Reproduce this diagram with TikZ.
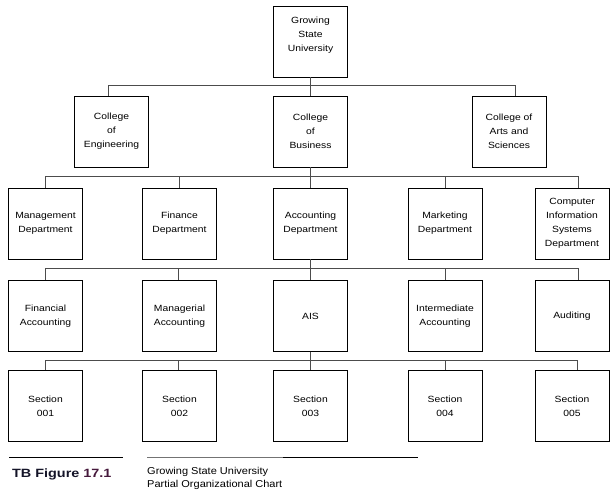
\documentclass[tikz,border=0pt]{standalone}
\usepackage{fontspec}
\setmainfont{Liberation Sans}
\newfontfamily\boitefont[FakeStretch=1.15]{Liberation Sans}
\newfontfamily\legendefont[FakeStretch=1.1]{Liberation Sans}
\newfontfamily\titrefont[FakeStretch=1.2]{Liberation Sans}
\definecolor{prune}{RGB}{70,25,60}
\definecolor{encre}{RGB}{20,20,40}

\begin{document}
\begin{tikzpicture}[x=1pt, y=-1pt]
	\tikzset{boite/.style={draw=black, line width=0.8pt, minimum width=74pt, minimum height=71pt, inner sep=0pt, align=center, font=\boitefont\fontsize{9}{14}\selectfont}, trait/.style={draw=black!70, line width=0.9pt}};

	\useasboundingbox (0,0) rectangle (616,493);

	\node[boite] (gsu) at (310.5,  41.5) {Growing\\State\\University\\~};

	\node[boite] (eng) at (111.5, 131.5) {College\\of\\Engineering};
	\node[boite] (bus) at (310.5, 131.5) {College\\of\\Business};
	\node[boite] (art) at (509.0, 131.5) {College of\\Arts and\\Sciences};

	\node[boite] (mgt) at ( 45.5, 223.5) {Management\\Department};
	\node[boite] (fin) at (179.5, 223.5) {Finance\\Department};
	\node[boite] (acc) at (310.5, 223.5) {Accounting\\Department};
	\node[boite] (mkt) at (445.0, 223.5) {Marketing\\Department};
	\node[boite] (cis) at (572.0, 223.5) {Computer\\Information\\Systems\\Department};

	\node[boite] (fac) at ( 45.5, 316.0) {Financial\\Accounting};
	\node[boite] (mac) at (179.5, 316.0) {Managerial\\Accounting};
	\node[boite] (ais) at (310.5, 316.0) {AIS};
	\node[boite] (iac) at (445.0, 316.0) {Intermediate\\Accounting};
	\node[boite] (aud) at (572.0, 316.0) {Auditing};

	\node[boite] (s1) at ( 45.5, 406.0) {Section\\001};
	\node[boite] (s2) at (179.5, 406.0) {Section\\002};
	\node[boite] (s3) at (310.5, 406.0) {Section\\003};
	\node[boite] (s4) at (445.0, 406.0) {Section\\004};
	\node[boite] (s5) at (572.0, 406.0) {Section\\005};

	% university -> colleges
	\draw[trait] (gsu.south) -- ++(0,8) -| ([xshift=-3]eng.north);
	\draw[trait] (gsu.south) -- ++(0,8) -| ([xshift=6]art.north);
	\draw[trait] (gsu) -- (bus);

	% business -> departments
	\draw[trait] (bus.south) -- ++(0,9) -| (mgt.north);
	\draw[trait] (bus.south) -- ++(0,9) -| (fin.north);
	\draw[trait] (bus.south) -- ++(0,9) -| (mkt.north);
	\draw[trait] (bus.south) -- ++(0,9) -| ([xshift=6]cis.north);
	\draw[trait] (bus) -- (acc);

	% accounting -> areas
	\draw[trait] (acc.south) -- ++(0,9) -| (fac.north);
	\draw[trait] (acc.south) -- ++(0,9) -| ([xshift=-1]mac.north);
	\draw[trait] (acc.south) -- ++(0,9) -| (iac.north);
	\draw[trait] (acc.south) -- ++(0,9) -| ([xshift=6]aud.north);
	\draw[trait] (acc) -- (ais);

	% AIS -> sections
	\draw[trait] (ais.south) -- ++(0,8.5) -| (s1.north);
	\draw[trait] (ais.south) -- ++(0,8.5) -| ([xshift=-1]s2.north);
	\draw[trait] (ais.south) -- ++(0,8.5) -| (s4.north);
	\draw[trait] (ais.south) -- ++(0,8.5) -| ([xshift=5]s5.north);
	\draw[trait] (ais) -- (s3);

	% caption
	\draw[line width=1.5pt, black] (9,457.5) -- (123,457.5);
	\draw[line width=1.7pt, black!55] (147,457.5) -- (283,457.5);
	\draw[line width=1.1pt, black] (283,457.5) -- (418,457.5);

	\node[anchor=base west, inner sep=0pt, text=encre, font=\titrefont\bfseries\fontsize{12}{14}\selectfont] (fig) at (12,477.7) {TB Figure \textcolor{prune}{17.1}};
	\node[anchor=base west, inner sep=0pt, font=\legendefont\fontsize{10}{13}\selectfont] (leg1) at (147,474.0) {Growing State University};
	\node[anchor=base west, inner sep=0pt, font=\legendefont\fontsize{10}{13}\selectfont] (leg2) at (147,487.5) {Partial Organizational Chart};

\end{tikzpicture}
\end{document}
